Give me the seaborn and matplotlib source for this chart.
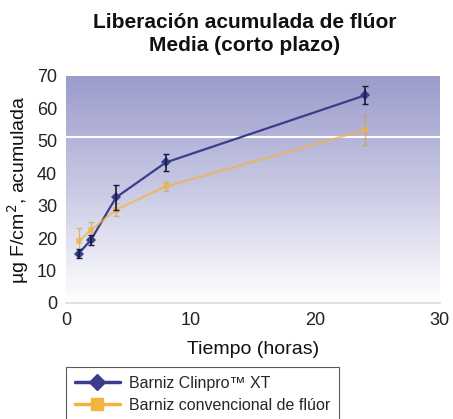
import numpy as np
import pandas as pd
import seaborn as sns
import matplotlib.pyplot as plt

# datos
horas = [1, 2, 4, 8, 24]
clinpro = [15.2, 19.5, 32.5, 43.3, 64.0]
clinpro_err = [1.5, 1.5, 4.0, 2.5, 2.8]
convencional = [19.0, 22.5, 28.7, 35.9, 53.3]
convencional_err = [4.0, 2.5, 2.0, 1.5, 4.5]
series = ["Barniz Clinpro\u2122 XT", "Barniz convencional de flúor"]

azul = "#3a3d8c"
naranja = "#f2b340"

sns.set_theme(style="white")
plt.rcParams['font.family'] = ['Liberation Sans', 'DejaVu Sans']

df = pd.DataFrame({
    "horas": horas * 2,
    "valor": clinpro + convencional,
    "serie": [series[0]] * len(horas) + [series[1]] * len(horas),
})

fig = plt.figure(figsize=(4.53, 4.19), dpi=100)
ax = fig.add_axes([0.146, 0.277, 0.825, 0.542])

# fondo degradado (morado arriba, blanco abajo)
grad = np.linspace(1, 0, 256).reshape(-1, 1)
cmap = sns.blend_palette(["#ffffff", "#c9c9e4", "#9b9bcc"], as_cmap=True)
ax.imshow(grad, extent=[0, 1, 0, 1], transform=ax.transAxes, aspect="auto",
          cmap=cmap, zorder=0)
ax.axhline(51, color="white", lw=1.5, zorder=1)

sns.lineplot(data=df, x="horas", y="valor", hue="serie", style="serie",
             palette=[azul, naranja], markers=["D", "s"], dashes=False,
             markersize=5, markeredgewidth=0, linewidth=1.6, ax=ax, zorder=3,
             legend=False)
for ln in ax.lines:
    if ln.get_color() == naranja:
        ln.set_alpha(0.7)
ax.errorbar(horas, clinpro, yerr=clinpro_err, fmt="none", ecolor="#1a1a40",
            elinewidth=1.2, capsize=2, zorder=4)
ax.errorbar(horas, convencional, yerr=convencional_err, fmt="none",
            ecolor="#c8a040", elinewidth=1, capsize=2, alpha=0.6, zorder=2)

ax.set_xlim(0, 30)
ax.set_ylim(0, 70)
ax.set_xticks([0, 10, 20, 30])
ax.set_yticks(range(0, 71, 10))
ax.tick_params(labelsize=13, length=3, colors="#222222")
for s in ["top", "right", "left"]:
    ax.spines[s].set_visible(False)
ax.spines["bottom"].set_color("#dddddd")
ax.set_xlabel("Tiempo (horas)", fontsize=14, color="#111111", labelpad=9)
ax.set_ylabel("µg F/cm$^2$, acumulada", fontsize=14, color="#111111")

fig.suptitle("Liberación acumulada de flúor\nMedia (corto plazo)", fontsize=15,
             fontweight="bold", y=0.97, x=0.54, linespacing=1.3,
             color="#111111")

h1 = plt.Line2D([], [], color=azul, marker="D", markersize=8, lw=2.5)
h2 = plt.Line2D([], [], color=naranja, marker="s", markersize=9, lw=2.5)
leg = fig.legend([h1, h2], series, loc="upper left",
                 bbox_to_anchor=(0.146, 0.124), borderaxespad=0,
                 fontsize=11.5, frameon=True, fancybox=False,
                 edgecolor="#333333", handlelength=2.8, handletextpad=0.6,
                 borderpad=0.55, labelspacing=0.45)
leg.get_frame().set_linewidth(0.8)

fig.savefig("out.png", dpi=100)
